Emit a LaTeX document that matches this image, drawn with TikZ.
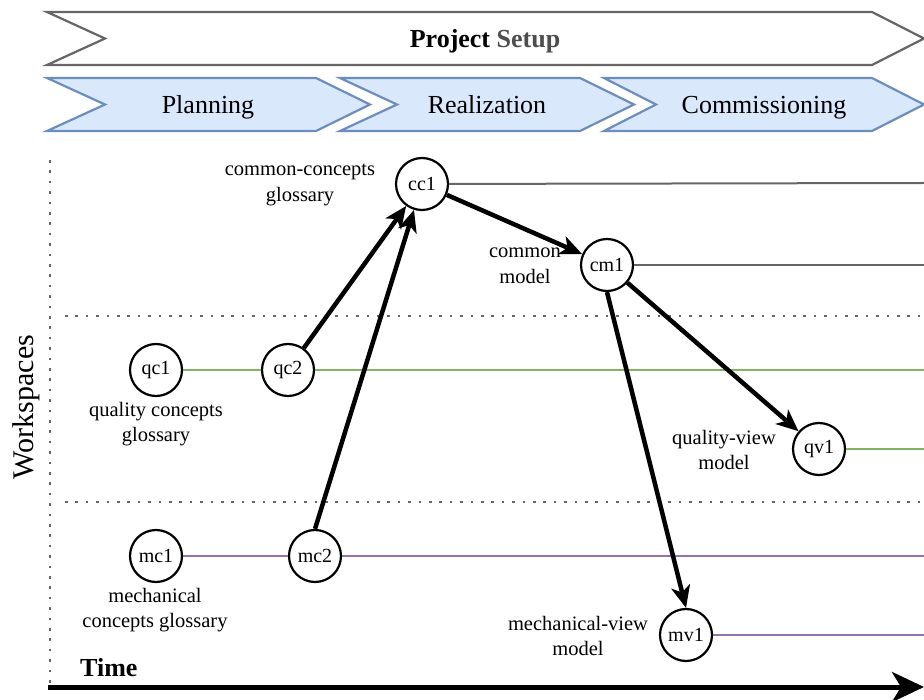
\documentclass[tikz,border=0pt]{standalone}
\usepackage{fontspec}
\setmainfont{Liberation Serif}
\usetikzlibrary{arrows.meta}
\definecolor{phasefill}{HTML}{DAE8FC}
\definecolor{phaseline}{HTML}{6C8EBF}
\definecolor{greyline}{HTML}{666666}
\definecolor{setupgrey}{HTML}{4D4D4D}
\definecolor{qline}{HTML}{82B366}
\definecolor{mline}{HTML}{9673A6}
\definecolor{sepgrey}{HTML}{666666}

\begin{document}
\begin{tikzpicture}[x=1pt,y=-1pt,
  ws/.style={circle,draw,line width=2.2pt,minimum size=52pt,inner sep=0pt,
    fill=white,font=\fontsize{20}{24}\selectfont},
  lbl/.style={align=center,inner sep=0pt,font=\fontsize{20.5}{25.5}\selectfont},
  phasebox/.style={draw=phaseline,fill=phasefill,line width=2.2pt},
  setupbox/.style={draw=greyline,fill=white,line width=2.2pt},
  phasetxt/.style={inner sep=0pt,anchor=base,font=\fontsize{26}{30}\selectfont},
  flow/.style={line width=4.5pt,-{Stealth[length=22pt,width=19pt,inset=6pt]}},
  lanec/.style={draw=greyline,line width=2pt},
  laneq/.style={draw=qline,line width=2pt},
  lanem/.style={draw=mline,line width=2pt},
  sep/.style={draw=sepgrey,line width=2.6pt,dash pattern=on 2.6pt off 7.8pt},
]
\useasboundingbox (0,0) rectangle (924,700);

% project banner
\draw[setupbox] (47,12) -- (872,12) -- (924,38.5) -- (872,65) -- (47,65) -- (105,38.5) -- cycle;
\node[phasetxt] (setup) at (485,47.5) {\textbf{Project \textcolor{setupgrey}{Setup}}};

% phases
\draw[phasebox] (47,78) -- (316,78) -- (370,104.5) -- (316,131) -- (47,131) -- (105,104.5) -- cycle;
\draw[phasebox] (340,78) -- (580,78) -- (634,104.5) -- (580,131) -- (340,131) -- (397,104.5) -- cycle;
\draw[phasebox] (604,78) -- (872,78) -- (924,104.5) -- (872,131) -- (604,131) -- (656,104.5) -- cycle;
\node[phasetxt] (planning) at (208,113.5) {Planning};
\node[phasetxt] (realization) at (487,113.5) {Realization};
\node[phasetxt] (commissioning) at (764,113.5) {Commissioning};

% workspace separators
\draw[sep] (50,160) -- (50,686);
\draw[sep] (65,316) -- (924,316);
\draw[sep] (65,502) -- (924,502);

\node[rotate=90,inner sep=0pt,font=\fontsize{30}{34}\selectfont] (workspaces) at (26,407) {Workspaces};

% time axis
\coordinate (t0) at (48,687);
\coordinate (t1) at (924,687);
\draw[line width=5pt,-{Stealth[length=32pt,width=30pt,inset=9pt]}] (t0) -- (t1);
\node[anchor=base west,inner sep=0pt,font=\fontsize{26}{30}\selectfont\bfseries] (time) at (80,676) {Time};

% lane ends
\coordinate (ecc) at (924,183);
\coordinate (ecm) at (924,265);
\coordinate (eq1) at (924,370);
\coordinate (eq2) at (924,449);
\coordinate (em1) at (924,556);
\coordinate (em2) at (924,635);

% workspace states
\node[ws] (cc1) at (422,184) {cc1};
\node[ws] (cm1) at (607,265) {cm1};
\node[ws] (qc1) at (156,370) {qc1};
\node[ws] (qc2) at (288,370) {qc2};
\node[ws] (qv1) at (819,449) {qv1};
\node[ws] (mc1) at (156,556) {mc1};
\node[ws] (mc2) at (315,556) {mc2};
\node[ws] (mv1) at (686,635) {mv1};

% lanes
\draw[lanec] (cc1) -- (ecc);
\draw[lanec] (cm1) -- (ecm);
\draw[laneq] (qc1) -- (qc2);
\draw[laneq] (qc2) -- (eq1);
\draw[laneq] (qv1) -- (eq2);
\draw[lanem] (mc1) -- (mc2);
\draw[lanem] (mc2) -- (em1);
\draw[lanem] (mv1) -- (em2);

% labels
\node[lbl] (lcc1) at (300,185) {common-concepts\\glossary};
\node[lbl] (lcm1) at (525,266) {common\\model};
\node[lbl] (lqc1) at (156,424) {quality concepts\\glossary};
\node[lbl] (lmc1) at (155,610) {mechanical\\concepts glossary};
\node[lbl] (lqv1) at (724,450) {quality-view\\model};
\node[lbl] (lmv1) at (578,636) {mechanical-view\\model};

% derivations
\draw[flow] (qc2) -- (cc1);
\draw[flow] (mc2.north) -- (cc1);
\draw[flow] (cc1) -- (cm1);
\draw[flow] (cm1) -- (qv1);
\draw[flow] (cm1.south) -- (mv1.north);
\end{tikzpicture}
\end{document}
